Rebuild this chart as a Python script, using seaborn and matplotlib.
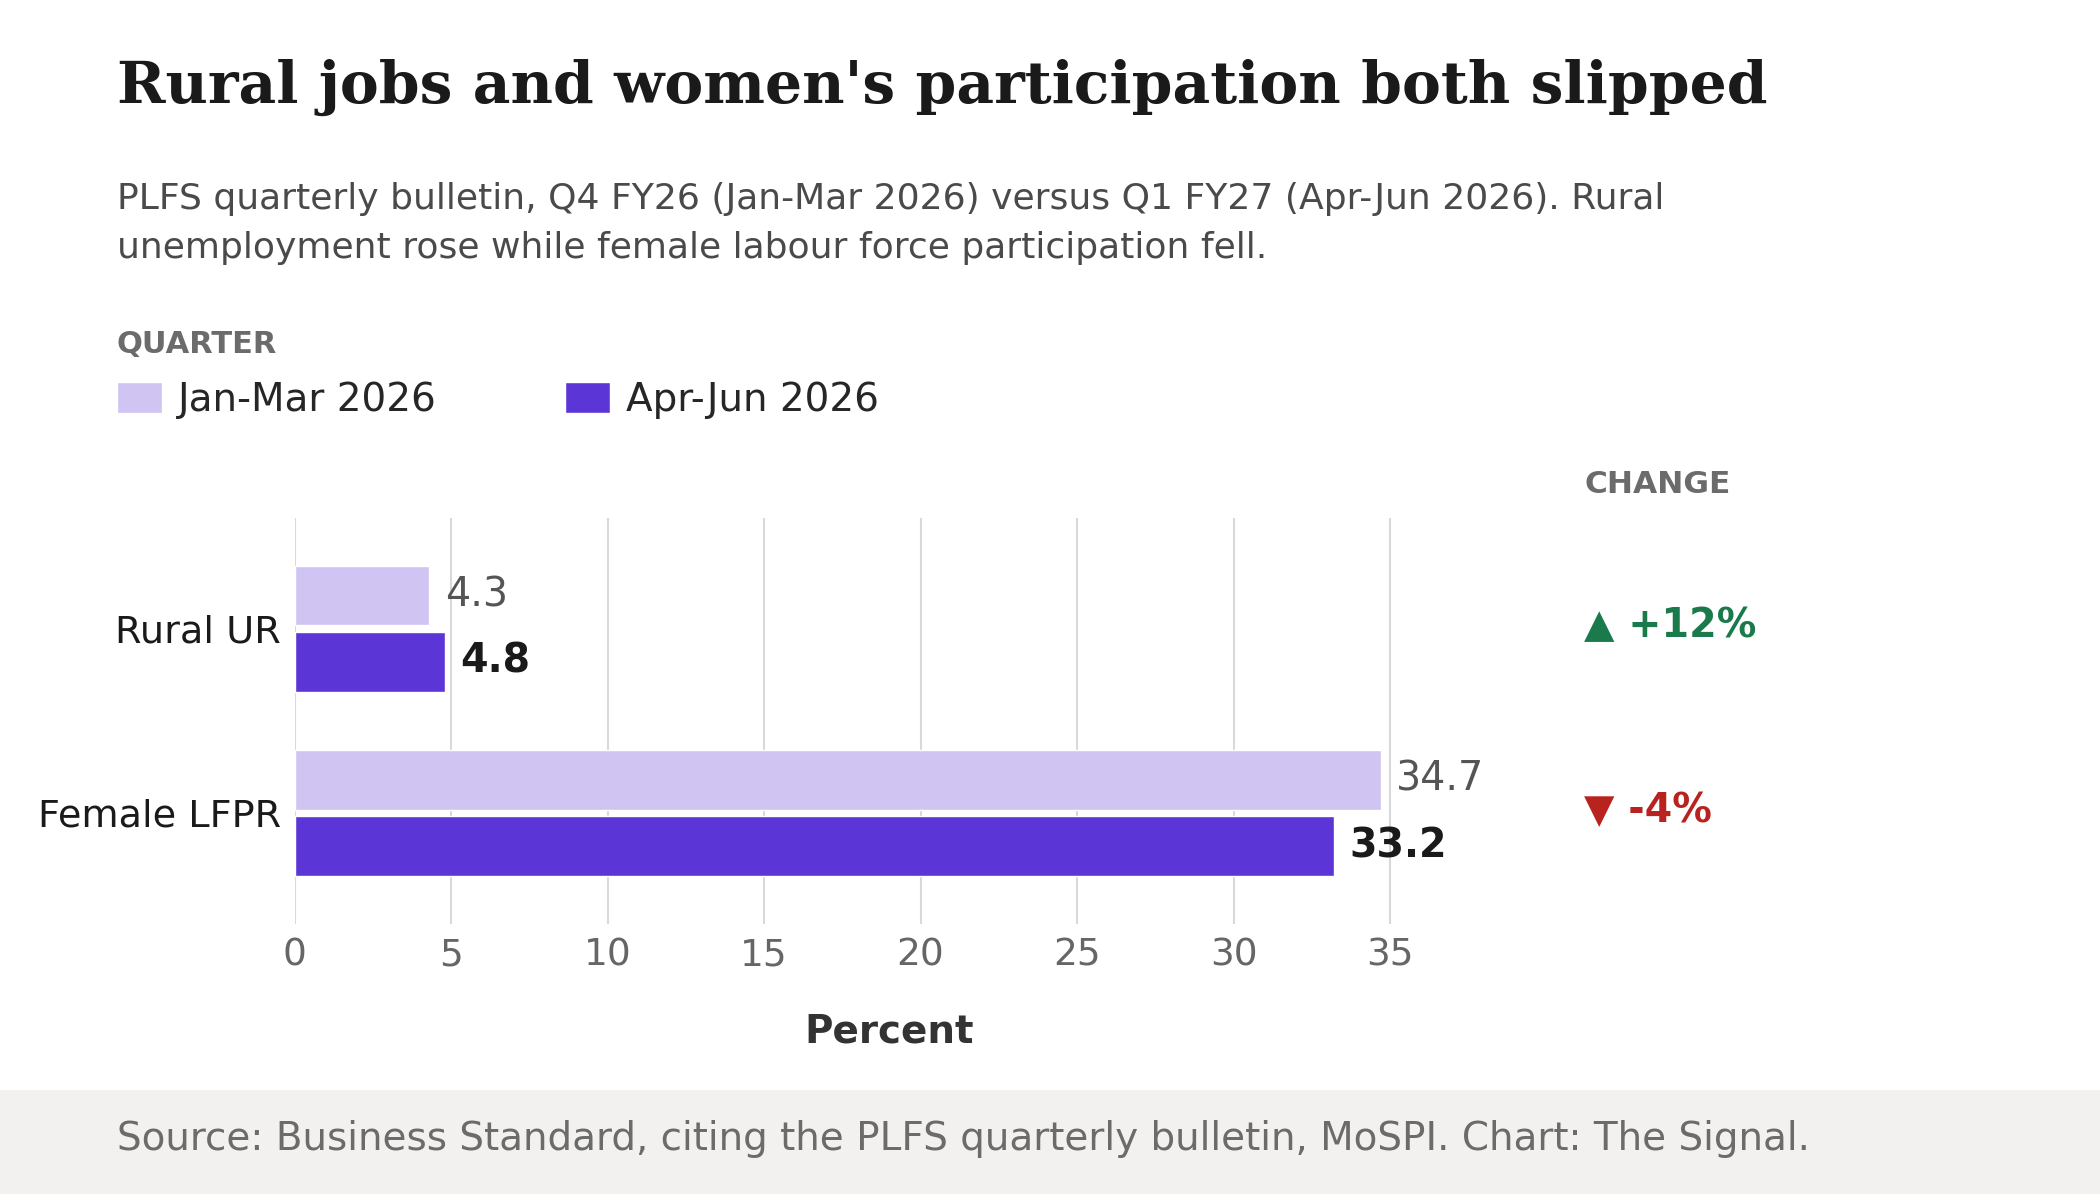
import matplotlib
matplotlib.use("Agg")
import matplotlib.pyplot as plt
import seaborn as sns
import pandas as pd
from matplotlib.patches import Patch, Rectangle

categories = ["Rural UR", "Female LFPR"]
quarters = ["Jan-Mar 2026", "Apr-Jun 2026"]
q4_values = [4.3, 34.7]
q1_values = [4.8, 33.2]
changes = ["▲ +12%", "▼ -4%"]
change_colors = ["#1a7a4c", "#b8231f"]
ticks = [0, 5, 10, 15, 20, 25, 30, 35]

light, dark = "#d0c4f2", "#5b35d5"

df = pd.DataFrame({
    "category": categories * 2,
    "quarter": [quarters[0]] * 2 + [quarters[1]] * 2,
    "value": q4_values + q1_values,
})

sns.set_theme(style="white")
plt.rcParams["font.family"] = ["DejaVu Sans"]

W, H = 1568, 892
fig = plt.figure(figsize=(21, 11.94), dpi=100)
ax = fig.add_axes([220 / W, 1 - 690 / H, (1108 - 220) / W, (690 - 387) / H])

sns.barplot(data=df, y="category", x="value", hue="quarter", order=categories,
            hue_order=quarters, palette=[light, dark], width=0.72, gap=0.1,
            orient="h", ax=ax, legend=False, saturation=1)

ax.set_xlim(0, 38)
ax.set_ylim(1.6, -0.6)
ax.set_xticks(ticks)
ax.tick_params(axis="x", labelsize=27, colors="#666666", length=0, pad=10)
ax.tick_params(axis="y", labelsize=27.5, labelcolor="#1a1a1a", length=0, pad=10)
ax.grid(axis="x", color="#d9d9d9", linewidth=1.5)
ax.set_axisbelow(True)
for s in ax.spines.values():
    s.set_visible(False)
ax.set_ylabel("")
ax.set_xlabel("Percent", fontsize=28, fontweight="bold", color="#333333", labelpad=28)

for i in range(len(categories)):
    ax.text(q4_values[i] + 0.5, i - 0.18, f"{q4_values[i]:.1f}", va="center",
            ha="left", fontsize=28.5, color="#555555")
    ax.text(q1_values[i] + 0.5, i + 0.18, f"{q1_values[i]:.1f}", va="center",
            ha="left", fontsize=28.5, color="#1a1a1a", fontweight="bold")
    ax.text(1183 / W, 1 - (468 + 138 * i) / H, changes[i], transform=fig.transFigure,
            va="center", ha="left", fontsize=28.5, fontweight="bold", color=change_colors[i])

fig.text(1183 / W, 1 - 362 / H, "CHANGE", fontsize=22.5, fontweight="bold",
         color="#6b6b6b", va="center")

fig.text(87 / W, 1 - 65 / H, "Rural jobs and women's participation both slipped",
         family="DejaVu Serif", fontsize=42, fontweight="bold", color="#1a1a1a", va="center")
fig.text(87 / W, 1 - 167 / H,
         "PLFS quarterly bulletin, Q4 FY26 (Jan-Mar 2026) versus Q1 FY27 (Apr-Jun 2026). Rural\n"
         "unemployment rose while female labour force participation fell.",
         fontsize=26, color="#4a4a4a", va="center", linespacing=1.55)
fig.text(87 / W, 1 - 257 / H, "QUARTER", fontsize=22, fontweight="bold",
         color="#6b6b6b", va="center")

handles = [Patch(facecolor=light), Patch(facecolor=dark)]
fig.legend(handles, quarters, loc="center left", bbox_to_anchor=(87 / W, 1 - 299 / H),
           ncol=2, frameon=False, fontsize=28, handlelength=1.17, handleheight=0.83,
           columnspacing=3.3, handletextpad=0.4, borderpad=0, borderaxespad=0)

fig.patches.append(Rectangle((0, 0), 1, (H - 814) / H, transform=fig.transFigure,
                             facecolor="#f2f1ef", edgecolor="none", zorder=-1))
fig.text(87 / W, 1 - 851 / H,
         "Source: Business Standard, citing the PLFS quarterly bulletin, MoSPI. Chart: The Signal.",
         fontsize=28, color="#6b6b6b", va="center")

fig.savefig("out.png", dpi=100, facecolor="white")
